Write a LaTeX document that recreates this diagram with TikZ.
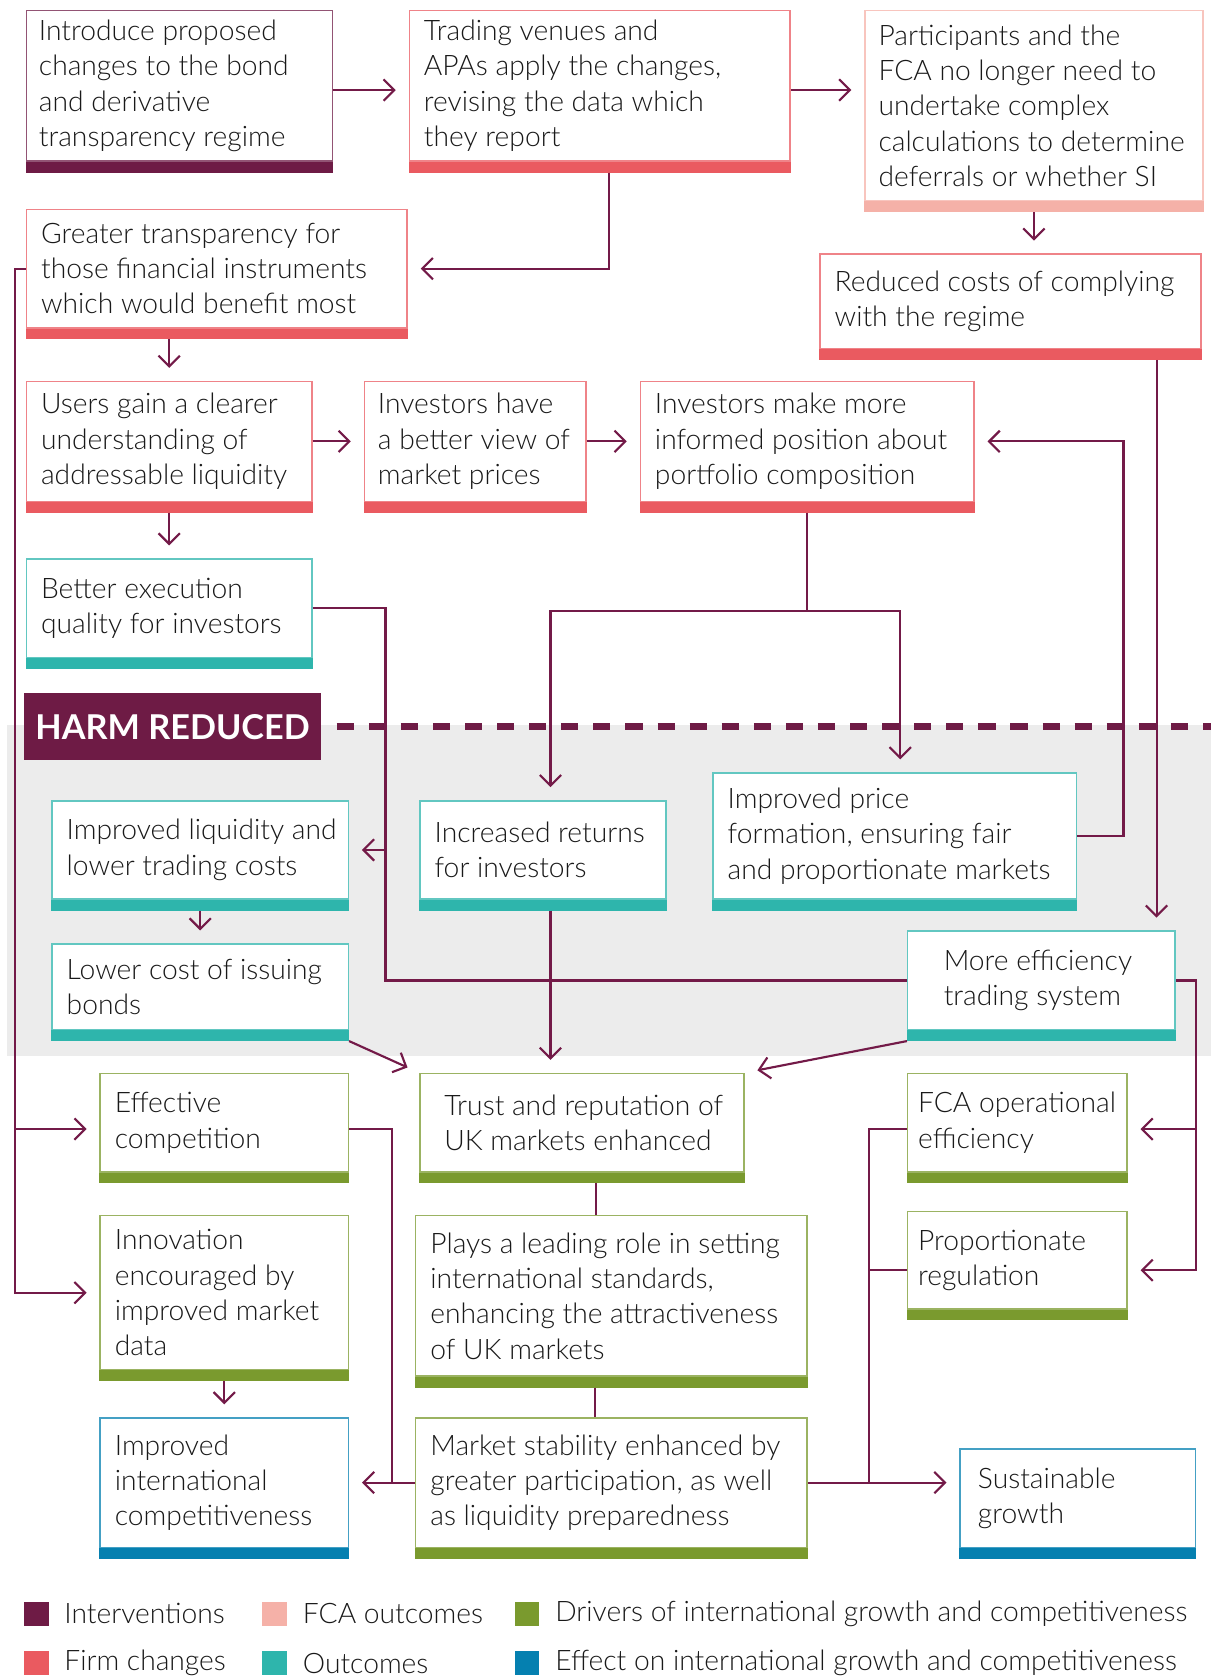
\documentclass[tikz,border=0pt]{standalone}
\usepackage{fontspec}
\setmainfont{Lato}[UprightFont={* Light}, BoldFont={* Bold}]
\usepackage{tikz}
\usetikzlibrary{arrows.meta,calc,positioning}
\definecolor{interv}{RGB}{110,27,69}
\definecolor{firm}{RGB}{234,90,96}
\definecolor{fcaout}{RGB}{245,177,168}
\definecolor{outc}{RGB}{46,181,172}
\definecolor{drive}{RGB}{122,154,46}
\definecolor{effect}{RGB}{5,128,176}
\definecolor{wire}{RGB}{115,26,72}
\definecolor{band}{RGB}{236,236,236}
\definecolor{ink}{RGB}{25,25,25}
\newcommand{\boxfont}{\fontsize{13.2pt}{16.5pt}\selectfont}
\newcommand{\harmfont}{\fontsize{16pt}{20pt}\selectfont\bfseries}

\begin{document}
\begin{tikzpicture}[x=0.5pt,y=-0.5pt]
\tikzset{box/.style = {draw=#1!75!white, line width=0.7pt, fill=white, anchor=north west, inner sep=0pt,
  append after command={\pgfextra{\fill[#1] (\tikzlastnode.south west) rectangle ([yshift=-5pt]\tikzlastnode.south east);}}}}
\tikzset{txt/.style = {anchor=west, align=left, inner xsep=7pt, inner ysep=0pt, font=\boxfont, text=ink}}
\tikzset{flow/.style = {draw=wire, line width=1pt, -{Straight Barb[length=5pt,width=10pt]}, shorten >=6pt}}
\tikzset{link/.style = {draw=wire, line width=1pt}}
\tikzset{key/.style = {fill=#1, minimum width=11.5pt, minimum height=11.5pt, inner sep=0pt, anchor=north west}}
\tikzset{keytxt/.style = {inner sep=0pt, font=\boxfont, text=ink}}
\useasboundingbox (0,0) rectangle (1132,1568);

% harm reduced band
\fill[band] (7,678) rectangle (1132,987);
\coordinate (bandR) at (1132,678);
\node[fill=interv, text=white, font=\harmfont, anchor=north west, minimum width=139pt, minimum height=31pt, inner sep=0pt] (harm) at (22,648) {HARM REDUCED};
\draw[interv, line width=3pt, dash pattern=on 8pt off 7pt, dash phase=8pt] (harm.east) -- (harm.east -| bandR);

% boxes
\node[box=interv, minimum width=143pt, minimum height=70.5pt, label={[txt, inner xsep=6pt]west:{Introduce proposed\\changes to the bond\\and derivative\\transparency regime}}] (intro) at (24,9) {};
\node[box=firm, minimum width=178pt, minimum height=70.5pt, label={[txt]west:{Trading venues and\\APAs apply the changes,\\revising the data which\\they report}}] (apply) at (382,9) {};
\node[box=fcaout, minimum width=158pt, minimum height=89pt, label={[txt, inner xsep=6.5pt]west:{Participants and the\\FCA no longer need to\\undertake complex\\calculations to determine\\deferrals or whether SI}}] (nolonger) at (808,9) {};
\node[box=firm, minimum width=178pt, minimum height=55.5pt, label={[txt]west:{Greater transparency for\\those financial instruments\\which would benefit most}}] (transp) at (24,195) {};
\node[box=firm, minimum width=178pt, minimum height=44pt, label={[txt]west:{Reduced costs of complying\\with the regime}}] (costs) at (766,237) {};
\node[box=firm, minimum width=133.5pt, minimum height=56pt, label={[txt]west:{Users gain a clearer\\understanding of\\addressable liquidity}}] (users) at (24,356) {};
\node[box=firm, minimum width=103.5pt, minimum height=56pt, label={[txt, inner xsep=6.5pt]west:{Investors have\\a better view of\\market prices}}] (view) at (340,356) {};
\node[box=firm, minimum width=156pt, minimum height=56pt, label={[txt]west:{Investors make more\\informed position about\\portfolio composition}}] (informed) at (598,356) {};
\node[box=outc, minimum width=133.5pt, minimum height=46pt, label={[txt]west:{Better execution\\quality for investors}}] (exec) at (24,522) {};
\node[box=outc, minimum width=138.5pt, minimum height=46pt, label={[txt]west:{Improved liquidity and\\lower trading costs}}] (liq) at (48,748) {};
\node[box=outc, minimum width=115pt, minimum height=46pt, label={[txt]west:{Increased returns\\for investors}}] (returns) at (392,748) {};
\node[box=outc, minimum width=170pt, minimum height=59pt, label={[txt]west:{Improved price\\formation, ensuring fair\\and proportionate markets}}] (price) at (666,722) {};
\node[box=outc, minimum width=138.5pt, minimum height=40pt, label={[txt]west:{Lower cost of issuing\\bonds}}] (issue) at (48,882) {};
\node[box=outc, minimum width=125pt, minimum height=46pt, label={[txt, inner xsep=17pt]west:{More efficiency\\trading system}}] (effsys) at (848,870) {};
\node[box=drive, minimum width=116pt, minimum height=46pt, label={[txt]west:{Effective\\competition}}] (comp) at (93,1003) {};
\node[box=drive, minimum width=151.5pt, minimum height=46pt, label={[txt, inner xsep=11.5pt]west:{Trust and reputation of\\UK markets enhanced}}] (trust) at (392,1003) {};
\node[box=drive, minimum width=102.5pt, minimum height=46pt, label={[txt, inner xsep=5pt]west:{FCA operational\\efficiency}}] (fcaeff) at (848,1003) {};
\node[box=drive, minimum width=116pt, minimum height=72pt, label={[txt]west:{Innovation\\encouraged by\\improved market\\data}}] (innov) at (93,1136) {};
\node[box=drive, minimum width=183pt, minimum height=75pt, label={[txt]west:{Plays a leading role in setting\\international standards,\\enhancing the attractiveness\\of UK markets}}] (lead) at (388,1136) {};
\node[box=drive, minimum width=102.5pt, minimum height=45.5pt, label={[txt, inner xsep=5pt]west:{Proportionate\\regulation}}] (prop) at (848,1132) {};
\node[box=effect, minimum width=116pt, minimum height=60.5pt, label={[txt]west:{Improved\\international\\competitiveness}}] (intl) at (93,1325) {};
\node[box=drive, minimum width=183pt, minimum height=60.5pt, label={[txt]west:{Market stability enhanced by\\greater participation, as well\\as liquidity preparedness}}] (stab) at (388,1325) {};
\node[box=effect, minimum width=110pt, minimum height=46pt, label={[txt, inner xsep=8.5pt]west:{Sustainable\\growth}}] (sust) at (897,1354) {};

% top rows
\draw[flow] ([yshift=-2pt]intro.east) -- ([yshift=-2pt]intro.east -| apply.west);
\draw[flow] ([yshift=-2pt]apply.east) -- ([yshift=-2pt]apply.east -| nolonger.west);
\draw[flow] ([xshift=4.5pt,yshift=-5pt]apply.south) |- (transp.east);
\draw[flow] ([yshift=-5pt]nolonger.south) -- (nolonger.south |- costs.north);
\draw[flow] ([yshift=-5pt]transp.south -| users.north) -- (users.north);
\draw[flow] (users.east) -- (view.west);
\draw[flow] (view.east) -- (informed.west);
\draw[flow] ([yshift=-5pt]users.south) -- (exec.north);

% left trunk
\coordinate (trunk) at ([xshift=-39.5pt]innov.west);
\draw[flow] (transp.west) -| (trunk) -- (innov.west);
\draw[flow] ([yshift=-3pt]comp.west -| trunk) -- ([yshift=-3pt]comp.west);

% investors split
\coordinate (split) at ([yshift=-51pt]informed.south);
\draw[link] ([yshift=-5pt]informed.south) -- (split);
\draw[flow] (split) -| ([xshift=3.5pt]returns.north);
\draw[flow] (split) -| ([xshift=2.5pt]price.north);
\coordinate (back) at ([xshift=21.5pt]price.east);
\draw[flow] (price.east) -- (back) |- (informed.east);

% into liquidity
\coordinate (mid) at ([xshift=17pt]liq.east);
\draw[flow] (exec.east) -| (mid) -- (liq.east);
\draw[link] (effsys.west) -| (mid);
\draw[flow] ([xshift=-21pt,yshift=-5pt]costs.south east) -- ([xshift=-21pt]costs.south east |- effsys.north);
\draw[flow] ([yshift=-5pt]liq.south) -- (issue.north);

% into trust
\draw[flow] ([yshift=-5pt]issue.south east) -- (trust.north west);
\draw[flow] ([xshift=3.5pt,yshift=-5pt]returns.south) -- ([xshift=3.5pt]returns.south |- trust.north);
\draw[flow] ([yshift=-5pt]effsys.south west) -- (trust.north east);

% efficiency to fca outcomes
\coordinate (rside) at ([xshift=9.5pt]effsys.east);
\draw[flow] (effsys.east) -- (rside) |- ([yshift=-4.75pt]prop.east);
\draw[flow] ([yshift=-3pt]fcaeff.east -| rside) -- ([yshift=-3pt]fcaeff.east);

% bottom
\draw[link] ([xshift=6.5pt,yshift=-5pt]trust.south) -- ([xshift=6.5pt]trust.south |- lead.north);
\draw[link] ([xshift=-7.5pt,yshift=-5pt]lead.south) -- ([xshift=-7.5pt]lead.south |- stab.north);
\coordinate (lmid) at ([xshift=20pt]intl.east);
\draw[link] ([yshift=-3pt]comp.east) -| (lmid);
\draw[flow] (stab.west) -- (intl.east);
\draw[flow] ([yshift=-5pt]innov.south) -- (intl.north);
\coordinate (rmid) at ([xshift=28.5pt]stab.east);
\draw[flow] (stab.east) -- (stab.east -| sust.west);
\draw[link] ([yshift=-3pt]fcaeff.west) -| (rmid);
\draw[link] ([yshift=-4.75pt]prop.west) -- ([yshift=-4.75pt]prop.west -| rmid);

% legend
\node[key=interv] (k1) at (22,1497) {};
\node[keytxt, right=7pt of k1] (l1) {Interventions};
\node[key=fcaout] (k2) at (245,1497) {};
\node[keytxt, right=7pt of k2] (l2) {FCA outcomes};
\node[key=drive] (k3) at (481,1497) {};
\node[keytxt, right=7pt of k3] (l3) {Drivers of international growth and competitiveness};
\node[key=firm] (k4) at (22,1543) {};
\node[keytxt, right=7pt of k4] (l4) {Firm changes};
\node[key=outc] (k5) at (245,1543) {};
\node[keytxt, right=7pt of k5] (l5) {Outcomes};
\node[key=effect] (k6) at (481,1543) {};
\node[keytxt, right=7pt of k6] (l6) {Effect on international growth and competitiveness};
\end{tikzpicture}
\end{document}
